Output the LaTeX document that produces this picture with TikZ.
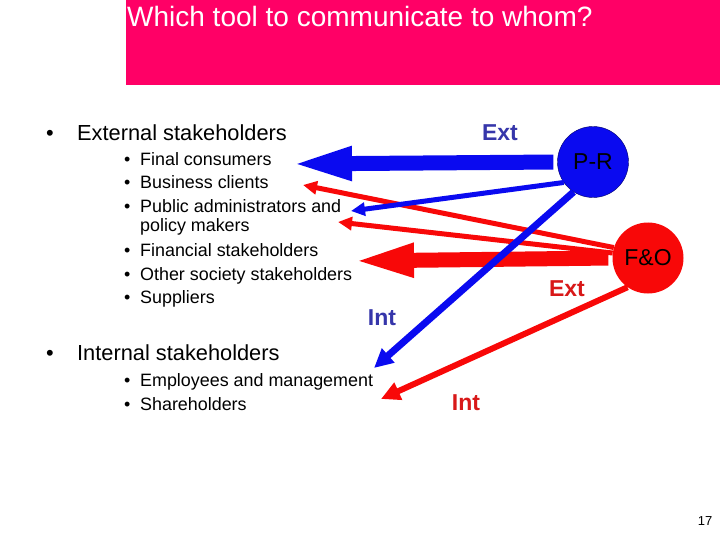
\documentclass[tikz,border=0pt]{standalone}
\usepackage{fontspec}
\setmainfont{Liberation Sans}
\usetikzlibrary{arrows.meta}
\definecolor{titlepink}{HTML}{FF0066}
\definecolor{toolblue}{HTML}{0A0AF0}
\definecolor{toolred}{HTML}{F80808}
\definecolor{labblue}{HTML}{3636AA}
\definecolor{labred}{HTML}{D81818}

\begin{document}
\begin{tikzpicture}[x=1pt, y=-1pt,
    main/.style={anchor=base west, inner sep=0pt, font=\fontsize{21.8}{22}\selectfont},
    sub/.style={anchor=base west, inner sep=0pt, font=\fontsize{17.9}{18}\selectfont},
    tool/.style={circle, minimum size=71pt, inner sep=0pt, font=\fontsize{23}{23}\selectfont},
    tag/.style={font=\bfseries\fontsize{23}{23}\selectfont},
    bigarrow/.style={line width=15pt, -{Triangle[length=63pt, width=30pt]}, shorten <=4pt},
    thinarrow/.style={line width=5pt, -{Triangle[length=14pt, width=13pt]}},
    diagarrow/.style={-{Triangle[length=19pt, width=18pt]}}
    ]
    \useasboundingbox (0,0) rectangle (720,540);
    \fill[titlepink] (126,0) rectangle (720,85);
    \node[anchor=base west, inner sep=0pt, text=white, font=\fontsize{28}{28}\selectfont] (title) at (127,27) {Which tool to communicate to whom?};

    \node[main] (ext) at (46,140.5) {\makebox[31pt][l]{•}External stakeholders};
    \node[sub] (fcons) at (124,165.5) {\makebox[16pt][l]{•}Final consumers};
    \node[sub] (bclients) at (124,189) {\makebox[16pt][l]{•}Business clients};
    \node[sub] (padmin) at (124,212.5) {\makebox[16pt][l]{•}Public administrators and};
    \node[sub] (pmakers) at (140,232) {policy makers};
    \node[sub] (fin) at (124,256.5) {\makebox[16pt][l]{•}Financial stakeholders};
    \node[sub] (other) at (124,280) {\makebox[16pt][l]{•}Other society stakeholders};
    \node[sub] (supp) at (124,303.5) {\makebox[16pt][l]{•}Suppliers};
    \node[main] (int) at (46,360.5) {\makebox[31pt][l]{•}Internal stakeholders};
    \node[sub] (empl) at (124,386.5) {\makebox[16pt][l]{•}Employees and management};
    \node[sub] (share) at (124,410) {\makebox[16pt][l]{•}Shareholders};

    \node[tool, fill=toolblue, draw=blue!40!black, text=black] (pr) at (593,162) {P-R};
    \node[tool, fill=toolred, text=black] (fo) at (648,258) {F\&O};

    \coordinate (tipfc) at (289,164);
    \coordinate (tipbc) at (303,185);
    \coordinate (tippa) at (351,211);
    \coordinate (tippm) at (338,222);
    \coordinate (tipfin) at (351,261);
    \coordinate (tipemp) at (374,368);
    \coordinate (tipsh) at (381,399);

    \draw[toolblue, bigarrow] (pr.west) -- (tipfc);
    \draw[toolred, thinarrow] (fo.163) -- (tipbc);
    \draw[toolblue, thinarrow] (pr.215) -- (tippa);
    \draw[toolred, thinarrow] (fo.172) -- (tippm);
    \draw[toolred, bigarrow] (fo.west) -- (tipfin);
    \draw[toolblue, line width=7pt, diagarrow] (pr.237) -- (tipemp);
    \draw[toolred, line width=6pt, diagarrow] (fo.235) -- (tipsh);

    \node[tag, text=labblue] (extb) at (500,133) {Ext};
    \node[tag, text=labred] (extr) at (567,289) {Ext};
    \node[tag, text=labblue] (intb) at (382,318) {Int};
    \node[tag, text=labred] (intr) at (466,403) {Int};

    \node[font=\fontsize{13}{13}\selectfont] (page) at (705,521) {17};
\end{tikzpicture}
\end{document}
